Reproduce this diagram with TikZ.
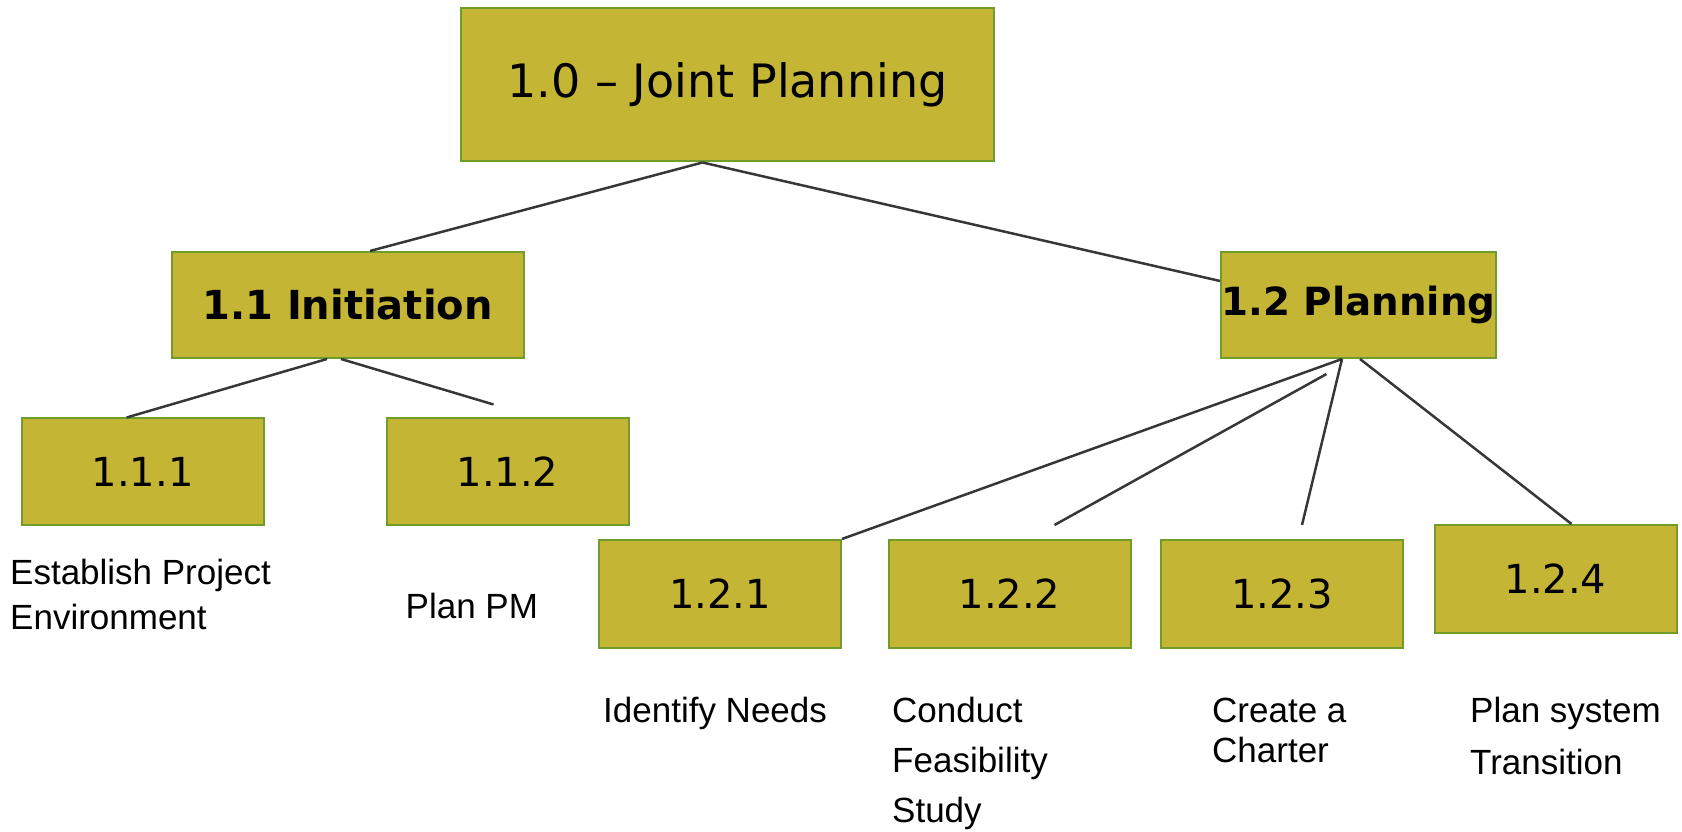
\documentclass[tikz,border=0pt]{standalone}
\usepackage{fontspec}
\setmainfont{DejaVu Sans}
\newfontfamily\descfont{Liberation Sans}
\usepackage{tikz}
\usepackage{xcolor}
\usetikzlibrary{calc}
\definecolor{wbsfill}{RGB}{196,181,52}
\definecolor{wbsedge}{RGB}{112,156,42}
\definecolor{wbsline}{RGB}{55,55,55}

\begin{document}
\begin{tikzpicture}[x=1pt,y=1pt,
    wbsbox/.style={draw=wbsedge, fill=wbsfill, line width=2pt, inner sep=0pt,
        minimum width=242pt, minimum height=107pt, font=\fontsize{40}{48}\selectfont},
    wbshead/.style={wbsbox, minimum height=106pt, font=\fontsize{40}{48}\selectfont\bfseries},
    wbsdesc/.style={anchor=base west, align=left, inner sep=0pt,
        font=\descfont\fontsize{35}{45}\selectfont},
    wbslink/.style={draw=wbsline, line width=2.5pt}]
                \useasboundingbox (0,0) rectangle (1682,832);

                % Top box
                \node[wbsbox, minimum width=533pt, minimum height=153pt,
                    font=\fontsize{46}{52}\selectfont] (root) at (727.5,747) {1.0 -- Joint Planning};

                % Second level
                \node[wbshead, minimum width=352pt] (n11) at (347.5,527) {1.1 Initiation};
                \node[wbshead, minimum width=275pt, font=\fontsize{38.8}{48}\selectfont\bfseries]
                    (n12) at (1358.5,527) {1.2 Planning};

                % Third level
                \node[wbsbox] (n111) at (142.7,360) {1.1.1};
                \node[wbsbox] (n112) at (507.5,360) {1.1.2};
                \node[wbsbox, minimum height=108pt] (n121) at (720,238) {1.2.1};
                \node[wbsbox, minimum height=108pt] (n122) at (1009.5,238) {1.2.2};
                \node[wbsbox, minimum height=108pt] (n123) at (1282,238) {1.2.3};
                \node[wbsbox, minimum height=108pt] (n124) at (1555.5,253) {1.2.4};

                % Descriptions (anchored at the last line)
                \node[wbsdesc] (d111) at (10,202) {Establish Project\\Environment};
                \node[wbsdesc] (d112) at (405.5,213) {Plan PM};
                \node[wbsdesc] (d121) at (603,109) {Identify Needs};
                \node[wbsdesc, font=\descfont\fontsize{35}{50}\selectfont] (d122) at (892,9) {Conduct\\Feasibility\\Study};
                \node[wbsdesc, font=\descfont\fontsize{35}{40}\selectfont] (d123) at (1212,69) {Create a\\Charter};
                \node[wbsdesc, font=\descfont\fontsize{35}{52}\selectfont] (d124) at (1470,57) {Plan system\\Transition};

                % loose line ends
                \coordinate (e112) at ($(n112.north)+(-14,13)$);
                \coordinate (s122) at ($(n12.south)+(-32,-15)$);
                \coordinate (e122) at ($(n122.north)+(45,14)$);
                \coordinate (e123) at ($(n123.north)+(20,14)$);

                % Links
                \draw[wbslink] ($(root.south)+(-25,0)$) -- ($(n11.north)+(22.5,0)$);
                \draw[wbslink] ($(root.south)+(-25,0)$) -- ($(n12.west)+(0,24)$);
                \draw[wbslink] ($(n11.south)+(-20.5,0)$) -- ($(n111.north)+(-16,0)$);
                \draw[wbslink] ($(n11.south)+(-6.5,0)$) -- (e112);
                \draw[wbslink] ($(n12.south)+(-16.5,0)$) -- (n121.north east);
                \draw[wbslink] (s122) -- (e122);
                \draw[wbslink] ($(n12.south)+(-16.5,0)$) -- (e123);
                \draw[wbslink] ($(n12.south)+(1.5,0)$) -- ($(n124.north)+(16,0)$);
\end{tikzpicture}
\end{document}
